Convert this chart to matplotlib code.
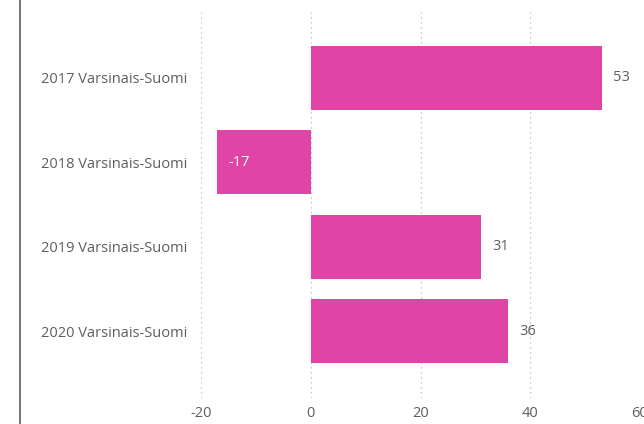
import matplotlib.pyplot as plt
from matplotlib.lines import Line2D

categories = ['2017 Varsinais-Suomi', '2018 Varsinais-Suomi',
              '2019 Varsinais-Suomi', '2020 Varsinais-Suomi']
values = [53, -17, 31, 36]
xticks = [-20, 0, 20, 40, 60]

plt.rcParams['font.family'] = ['Open Sans', 'DejaVu Sans']

fig = plt.figure(figsize=(6.44, 4.24), dpi=100)
ax = fig.add_axes([201 / 644, 26 / 424, 439 / 644, 386 / 424])

barColor = '#E044A7'
textColor = '#605E5C'

ypos = list(range(len(categories)))
ax.barh(ypos, values, height=0.76, color=barColor, zorder=2)

ax.set_xlim(-20, 60)
ax.set_ylim(3.79, -0.78)
ax.set_xticks(xticks)
ax.set_xticklabels([str(t) for t in xticks])
ax.set_yticks(ypos)
ax.set_yticklabels(categories)

ax.grid(axis='x', linestyle=(0, (1, 3)), color='#B8B6B4', linewidth=0.9, zorder=0)
ax.grid(axis='y', visible=False)
for s in ax.spines.values():
    s.set_visible(False)
ax.tick_params(axis='both', length=0, colors=textColor, labelsize=10.5)
ax.tick_params(axis='y', pad=10)
ax.tick_params(axis='x', pad=6)

for y, v in zip(ypos, values):
    if v >= 0:
        ax.text(v + 2, y, str(v), va='center', ha='left', color=textColor, fontsize=10.5)
    else:
        ax.text(v + 2, y, str(v), va='center', ha='left', color='white', fontsize=10.5)

fig.add_artist(Line2D([20 / 644, 20 / 644], [0, 1], color='#605E5C', linewidth=1.2))

fig.savefig('out.png', dpi=100)
